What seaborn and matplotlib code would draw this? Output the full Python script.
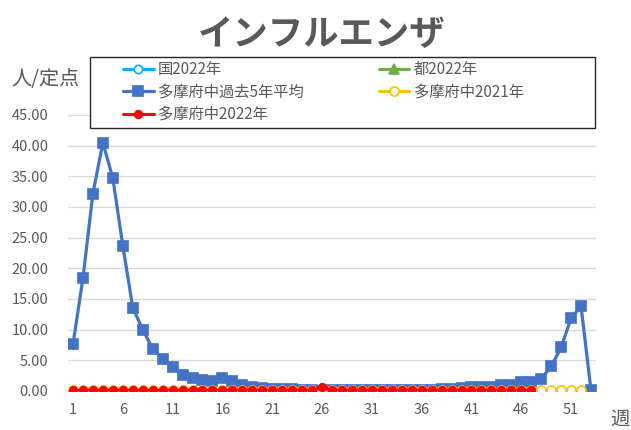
import numpy as np
import pandas as pd
import matplotlib
matplotlib.use('Agg')
import matplotlib.pyplot as plt
import seaborn as sns

# weekly values (persons per sentinel site)
weeks = np.arange(1, 54)
tama_5yr_avg = [7.6, 18.4, 32.2, 40.5, 34.7, 23.7, 13.6, 10.0, 6.9, 5.2,
                3.9, 2.6, 2.1, 1.8, 1.6, 2.2, 1.6, 1.0, 0.7, 0.5,
                0.4, 0.3, 0.3, 0.2, 0.2, 0.0, 0.1, 0.1, 0.1, 0.1,
                0.1, 0.1, 0.1, 0.1, 0.1, 0.2, 0.2, 0.3, 0.4, 0.5,
                0.6, 0.7, 0.7, 0.9, 1.0, 1.5, 1.4, 2.0, 4.0, 7.1,
                11.9, 13.8, 0.1]
tama_2021 = [0.2] * 52
tama_2022 = [0.1] * 25 + [0.6] + [0.1] * 21
national_2022 = [0.0] * 47
tokyo_2022 = [0.0] * 47

labels = ['国2022年', '都2022年', '多摩府中過去5年平均', '多摩府中2021年', '多摩府中2022年']
ticks_x = np.arange(1, 52, 5)
ticks_y = np.arange(0, 46, 5)

sns.set_theme(style='white')
plt.rcParams['font.family'] = ['Noto Sans CJK JP', 'DejaVu Sans']
gray = '#595959'

fig = plt.figure(figsize=(6.31, 4.30), dpi=100)
ax = fig.add_axes([68 / 631, 1 - 391 / 430, 528 / 631, 276 / 430])


def draw(vals, label, color, marker, ms, mfc, lw, z):
    df = pd.DataFrame({'week': weeks[:len(vals)], 'val': vals})
    sns.lineplot(data=df, x='week', y='val', ax=ax, color=color, marker=marker,
                 markersize=ms, markerfacecolor=mfc, markeredgecolor=color,
                 markeredgewidth=1.2, linewidth=lw, label=label, zorder=z)


draw(national_2022, labels[0], '#00b0f0', 'o', 6, 'white', 2.2, 3)
draw(tokyo_2022, labels[1], '#70ad47', '^', 7, '#70ad47', 2.2, 3)
draw(tama_5yr_avg, labels[2], '#4472c4', 's', 7.8, '#4472c4', 2.3, 4)
draw(tama_2021, labels[3], '#ffc000', 'o', 6.5, 'white', 2.2, 5)
draw(tama_2022, labels[4], '#ff0000', 'o', 5.5, '#ff0000', 2.2, 6)

ax.set_xlim(0.5, 53.5)
ax.set_ylim(0, 45)
ax.set_xticks(ticks_x)
ax.set_xticklabels([str(t) for t in ticks_x])
ax.set_yticks(ticks_y)
ax.set_yticklabels([f'{t:.2f}' for t in ticks_y])
ax.tick_params(axis='both', labelsize=10.5, colors=gray, length=0)
ax.tick_params(axis='y', pad=14)
ax.tick_params(axis='x', pad=9)
ax.grid(axis='y', color='#d9d9d9', linewidth=1)
ax.set_axisbelow(True)
for s in ax.spines.values():
    s.set_visible(False)
ax.set_xlabel('')
ax.set_ylabel('')

# legend frame drawn separately so entries can sit inset like the original
fig.patches.append(plt.Rectangle((90 / 631, 1 - 128 / 430), 505 / 631, 71 / 430,
                                 transform=fig.transFigure, fill=True,
                                 facecolor='white', edgecolor='#262626',
                                 linewidth=1, zorder=10))

h, l = ax.get_legend_handles_labels()
ax.get_legend().remove()
order = [0, 2, 4, 1, 3]
leg = fig.legend([h[i] for i in order], [l[i] for i in order], ncol=2,
                 loc='upper left', bbox_to_anchor=(123 / 631, 1 - 61 / 430),
                 frameon=False, fontsize=11, handlelength=2.0,
                 handletextpad=0.3, columnspacing=4.9, borderpad=0,
                 borderaxespad=0, labelspacing=0.36)
leg.set_zorder(11)
for t in leg.get_texts():
    t.set_color(gray)

fig.text(0.51, 1 - 35 / 430, 'インフルエンザ', ha='center', va='center',
         fontsize=25.5, fontweight='bold', color=gray)
fig.text(11 / 631, 1 - 80 / 430, '人/定点', ha='left', va='center',
         fontsize=14.5, color=gray)
fig.text(610 / 631, 1 - 419 / 430, '週', ha='left', va='center',
         fontsize=14, color=gray)

fig.savefig('out.png', dpi=100)
